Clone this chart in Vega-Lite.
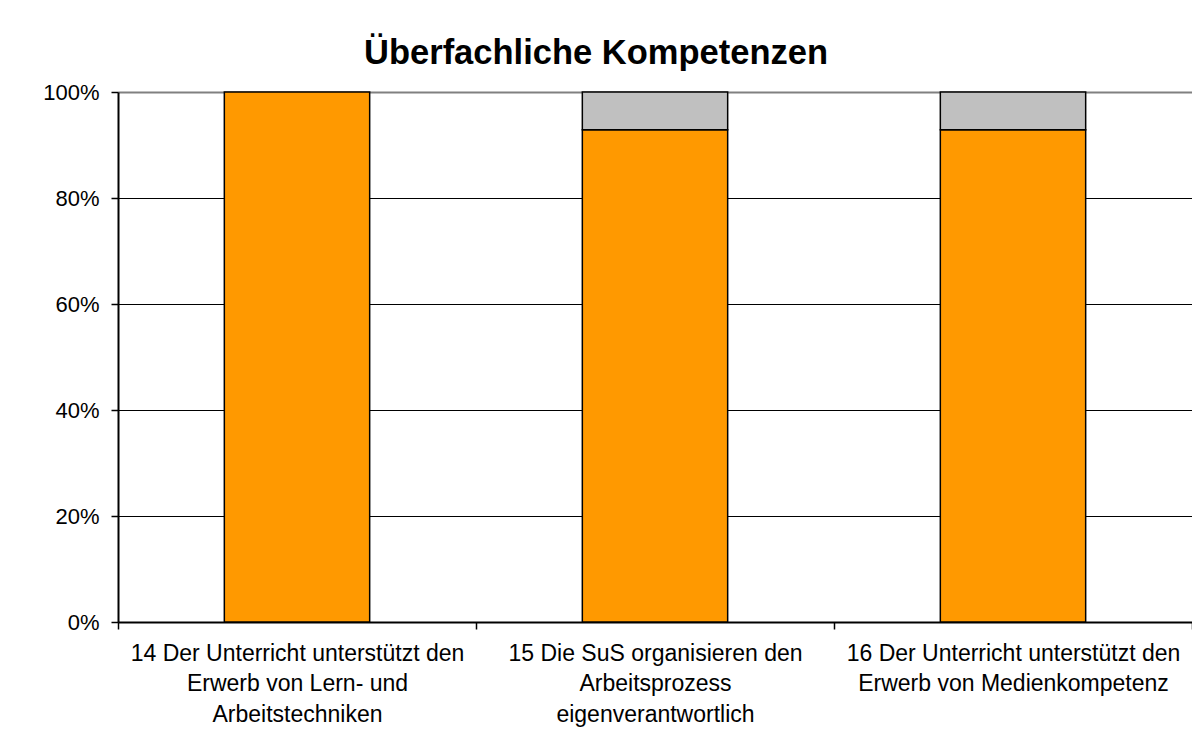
{
  "$schema": "https://vega.github.io/schema/vega-lite/v6.json",
  "width": 1074,
  "height": 530,
  "autosize": {"type": "none"},
  "padding": {"left": 118, "top": 92, "right": 0, "bottom": 132},
  "background": "white",
  "config": {
    "font": "Liberation Sans",
    "view": {"stroke": null},
    "axis": {"labelFont": "Liberation Sans", "labelColor": "black"}
  },
  "title": {
    "text": "Überfachliche Kompetenzen",
    "font": "Liberation Sans",
    "fontSize": 34.5,
    "fontWeight": "bold",
    "color": "black",
    "anchor": "middle",
    "frame": "group",
    "dx": -59,
    "offset": 10
  },
  "data": {
    "values": [
      {"item": "14 Der Unterricht unterstützt den|Erwerb von Lern- und|Arbeitstechniken", "antwort": "trifft zu", "ord": 1, "anteil": 1.0},
      {"item": "15 Die SuS organisieren den|Arbeitsprozess|eigenverantwortlich", "antwort": "trifft zu", "ord": 1, "anteil": 0.9286},
      {"item": "15 Die SuS organisieren den|Arbeitsprozess|eigenverantwortlich", "antwort": "trifft nicht zu", "ord": 2, "anteil": 0.0714},
      {"item": "16 Der Unterricht unterstützt den|Erwerb von Medienkompetenz", "antwort": "trifft zu", "ord": 1, "anteil": 0.9286},
      {"item": "16 Der Unterricht unterstützt den|Erwerb von Medienkompetenz", "antwort": "trifft nicht zu", "ord": 2, "anteil": 0.0714}
    ]
  },
  "mark": {"type": "bar", "stroke": "black", "strokeWidth": 1.5, "width": {"band": 0.406}},
  "encoding": {
    "x": {
      "field": "item",
      "type": "nominal",
      "sort": null,
      "scale": {"paddingInner": 0, "paddingOuter": 0},
      "axis": {
        "title": null,
        "labelAngle": 0,
        "labelExpr": "split(datum.label, '|')",
        "labelFontSize": 23,
        "labelLineHeight": 30.5,
        "labelPadding": 13,
        "labelBaseline": "top",
        "labelLimit": 0,
        "labelOverlap": false,
        "tickBand": "extent",
        "tickSize": 7,
        "tickColor": "black",
        "tickWidth": 1.5,
        "domainColor": "black",
        "domainWidth": 2,
        "grid": false
      }
    },
    "y": {
      "field": "anteil",
      "type": "quantitative",
      "stack": "zero",
      "scale": {"domain": [0, 1], "nice": false},
      "axis": {
        "title": null,
        "format": "%",
        "values": [0, 0.2, 0.4, 0.6, 0.8, 1],
        "labelFontSize": 22,
        "labelPadding": 12,
        "tickSize": 7,
        "tickColor": "black",
        "tickWidth": 1.5,
        "domainColor": "black",
        "domainWidth": 2,
        "grid": true,
        "gridColor": {"condition": {"test": "datum.value === 1", "value": "#808080"}, "value": "black"},
        "gridWidth": {"condition": {"test": "datum.value === 1", "value": 2}, "value": 1}
      }
    },
    "color": {
      "field": "antwort",
      "type": "nominal",
      "scale": {"domain": ["trifft zu", "trifft nicht zu"], "range": ["#FF9900", "#C0C0C0"]},
      "legend": null
    },
    "order": {"field": "ord", "type": "quantitative"}
  }
}
